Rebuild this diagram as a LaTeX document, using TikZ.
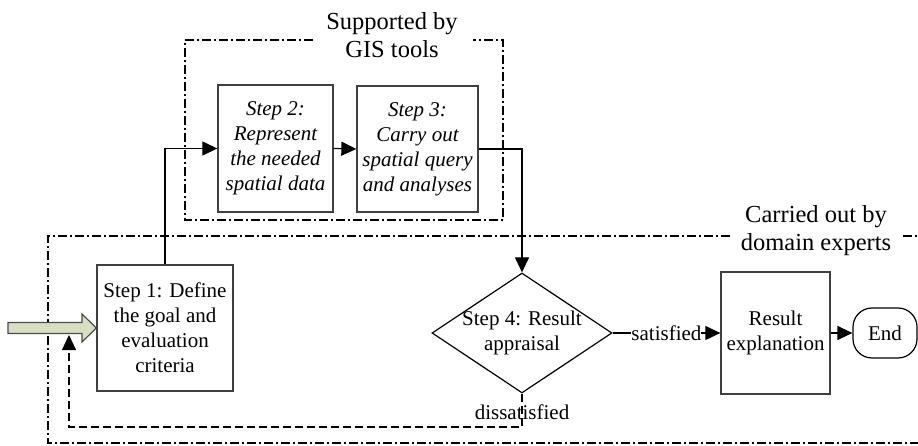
\documentclass[tikz,border=0pt]{standalone}
\usepackage{fontspec}
\setmainfont{Liberation Serif}
\usepackage{tikz}
\usetikzlibrary{arrows.meta}
\usetikzlibrary{shapes.geometric}
\usetikzlibrary{positioning}
\tikzset{
  stepbox/.style={draw=black!75, line width=1.3pt, align=center, inner sep=0pt},
  region/.style={line width=2pt, dash pattern=on 9pt off 3pt on 2pt off 3pt},
  regionlabel/.style={align=center, font=\fontsize{24.5}{28}\selectfont},
  flow/.style={line width=1.2pt, -{Triangle[length=15pt,width=14pt]}},
  back/.style={line width=1.2pt, dash pattern=on 8pt off 4pt, -{Triangle[length=15pt,width=14pt]}}
}
\begin{document}
\begin{tikzpicture}[line cap=butt,line join=miter,x=1pt,y=-1pt,
  font=\fontsize{21}{25}\selectfont]
\useasboundingbox (0,0) rectangle (918,446);
% regions
\draw [region] (313,40)-- (185,40)-- (185,220)-- (503,220)-- (503,40)-- (473,40);
\node [regionlabel] (gislabel) at (392,35) {Supported by\\GIS tools};
\draw [region] (730,236)-- (48,236)-- (48,443)-- (918,443);
\draw [region] (903,236)-- (918,236);
\node [regionlabel] (expertlabel) at (816,231) {Carried out by\\domain experts};
% steps
\node [stepbox, minimum width=136pt, minimum height=126pt] (step1) at (165,328) {Step 1: Define\\the goal and\\evaluation\\criteria};
\node [stepbox, minimum width=115pt, minimum height=127pt, font=\fontsize{21}{25}\selectfont\itshape] (step2) at (275.5,148.5) {Step 2:\\Represent\\the needed\\spatial data};
\node [stepbox, minimum width=121pt, minimum height=126pt, font=\fontsize{21}{25}\selectfont\itshape] (step3) at (417.5,149) {Step 3:\\Carry out\\spatial query\\and analyses};
\node [draw, diamond, line width=1.2pt, minimum width=180pt, minimum height=120pt, inner sep=0pt] (appraisal) at (522,333) {};
\node [align=center] (appraisaltext) at (appraisal.center) {Step 4: Result\\appraisal};
\node [stepbox, minimum width=109pt, minimum height=122pt] (result) at (775.5,333) {Result\\explanation};
\node [draw, line width=1.2pt, rounded corners=19pt, minimum width=64pt, minimum height=50pt, inner sep=0pt] (end) at (885,333) {End};
% input arrow
\coordinate (start) at (8,328);
\draw [draw=black!70, line width=1.2pt, fill={rgb,255:red,216;green,222;blue,196}]
  (start) ++(0,-5.5)-- (82,322.5)-- (82,314)-- (step1.west)-- (82,342)-- (82,333.5)-- (8,333.5)-- cycle;
% connectors
\draw [flow] (step1.north) |- (step2.west);
\draw [flow] (step2.east) -- (step3.west);
\draw [flow] (step3.east) -| (appraisal.north);
\draw [flow] (appraisal.east) -- node [fill=white, inner sep=0pt] (satlabel) {satisfied} (result.west);
\draw [flow] (result.east) -- (end.west);
\coordinate (backtip) at (69,335);
\draw [back] (appraisal.south) -- (522,427) -| (backtip);
\node (dissatlabel) at (522,412) {dissatisfied};
\end{tikzpicture}
\end{document}
